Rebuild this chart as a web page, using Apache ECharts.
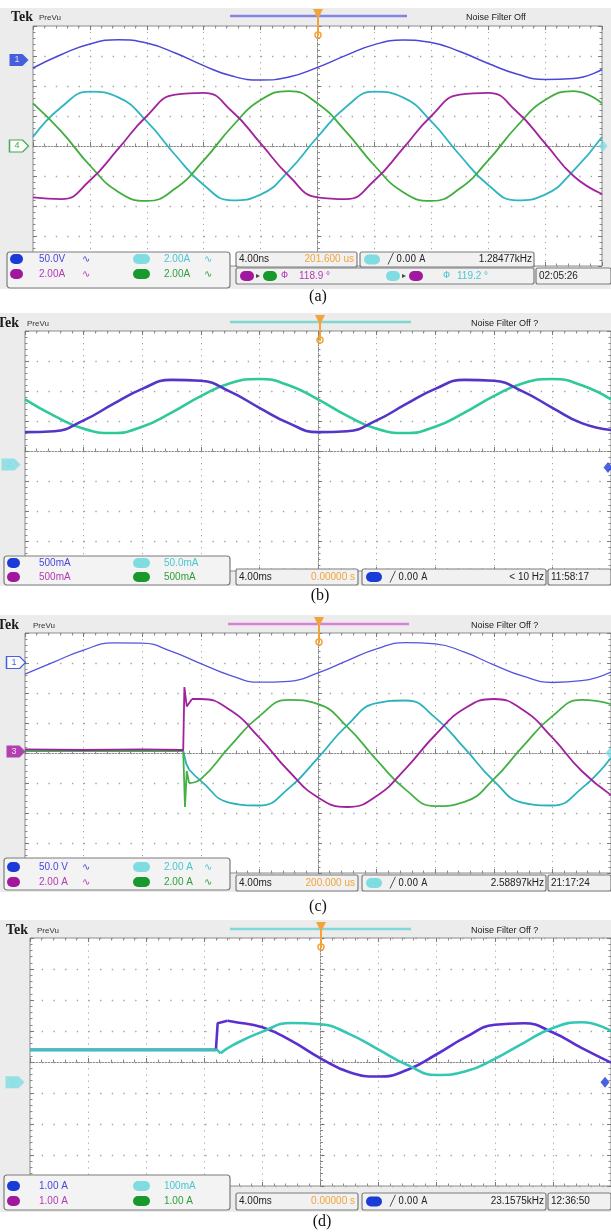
<!DOCTYPE html>
<html>
<head>
<meta charset="utf-8">
<script src="https://cdn.jsdelivr.net/npm/echarts@6/dist/echarts.min.js"></script>
<style>
html, body { margin: 0; padding: 0; background: #fff; }
#main { width: 611px; height: 1232px; }
</style>
</head>
<body>
<div id="main"></div>
<script>
// x in divisions from screen centre, y in divisions from centre line
var T = [-5, -4.5, -4, -3.5, -3, -2.5, -2, -1.5, -1, -0.5, 0, 0.5, 1, 1.5, 2, 2.5, 3, 3.5, 4, 4.5, 5];
var T2 = [-2, -1.5, -1, -0.5, 0, 0.5, 1, 1.5, 2, 2.5, 3, 3.5, 4, 4.5, 5];

// (a) steady state
var aCh1 = [2.6, 3.05, 3.4, 3.54, 3.43, 3.1, 2.68, 2.33, 2.2, 2.3, 2.62, 3.02, 3.38, 3.53, 3.45, 3.15, 2.75, 2.4, 2.22, 2.25, 2.55];
var aCh2 = [0.3, 1.3, 1.81, 1.62, 0.82, -0.3, -1.3, -1.81, -1.62, -0.82, 0.3, 1.3, 1.81, 1.62, 0.82, -0.3, -1.3, -1.81, -1.62, -0.82, 0.3];
var aCh3 = [-1.71, -1.77, -1.15, -0.09, 1.0, 1.71, 1.77, 1.15, 0.09, -1.0, -1.71, -1.77, -1.15, -0.09, 1.0, 1.71, 1.77, 1.15, 0.09, -1.0, -1.6];
var aCh4 = [1.42, 0.48, -0.65, -1.53, -1.83, -1.42, -0.48, 0.65, 1.53, 1.83, 1.42, 0.48, -0.65, -1.53, -1.83, -1.42, -0.48, 0.65, 1.53, 1.83, 1.42];

// (b) two currents
var bCh1 = [0.63, 0.66, 1.02, 1.56, 2.07, 2.37, 2.34, 1.98, 1.44, 0.93, 0.63, 0.66, 1.02, 1.56, 2.07, 2.37, 2.34, 1.98, 1.44, 0.93, 0.7];
var bCh2 = [1.72, 1.17, 0.74, 0.6, 0.81, 1.28, 1.83, 2.26, 2.4, 2.19, 1.72, 1.17, 0.74, 0.6, 0.81, 1.28, 1.83, 2.26, 2.4, 2.19, 1.72];

// (c) start-up of three-phase currents
var cCh1 = [2.63, 3.04, 3.43, 3.67, 3.66, 3.39, 2.98, 2.59, 2.36, 2.39, 2.67, 3.08, 3.47, 3.68, 3.64, 3.36, 2.94, 2.56, 2.35, 2.41, 2.7];
var cCh3X = [-5, -4, -3, -2.3, -2.28, -2.24, -2.15].concat(T2);
var cCh3 = [0.12, 0.1, 0.12, 0.1, 2.2, 1.55, 1.8, 1.8, 1.43, 0.51, -0.6, -1.48, -1.8, -1.43, -0.51, 0.6, 1.48, 1.8, 1.43, 0.51, -0.6, -1.4];
var cCh4X = [-5, -4, -3, -2.3, -2.27, -2.24, -2.2].concat(T2);
var cCh4 = [0.06, 0.06, 0.06, 0.06, -1.8, -0.6, -1.0, -0.87, 0.23, 1.23, 1.77, 1.63, 0.87, -0.23, -1.23, -1.77, -1.63, -0.87, 0.23, 1.23, 1.77, 1.63];
var cCh2X = [-5, -4, -3, -2.3, -2.25, -2.2].concat(T2);
var cCh2 = [0.08, 0.08, 0.08, 0.08, -0.35, -0.55, -0.93, -1.66, -1.75, -1.18, -0.16, 0.93, 1.66, 1.75, 1.18, 0.16, -0.93, -1.66, -1.75, -1.18, -0.16];

// (d) start-up of two currents
var dCh1X = [-5, -3, -1.8, -1.77, -1.6, -1.5, -1, -0.5, 0, 0.5, 1, 1.5, 2, 2.5, 3, 3.5, 4, 4.5, 5];
var dCh1 = [0.39, 0.39, 0.39, 1.25, 1.33, 1.3, 1.12, 0.68, 0.12, -0.33, -0.47, -0.25, 0.25, 0.8, 1.2, 1.25, 0.95, 0.45, -0.02];
var dCh2X = [-5, -3, -1.78, -1.72, -1.5, -1, -0.5, 0, 0.5, 1, 1.5, 2, 2.5, 3, 3.5, 4, 4.5, 5];
var dCh2 = [0.39, 0.39, 0.39, 0.28, 0.55, 0.98, 1.26, 1.22, 0.9, 0.4, -0.1, -0.42, -0.3, 0.1, 0.62, 1.1, 1.28, 1.0];

// channel ground markers: [panel, channel, level, side, filled]
var markers = [
    [0, 1, 2.87, 'left', true], [0, 4, 0, 'left', false], [0, 2, 0, 'right', true],
    [1, 2, -0.45, 'left', true], [1, 1, -0.55, 'right', true],
    [2, 1, 3.02, 'left', false], [2, 3, 0.05, 'left', true], [2, 2, 0, 'right', true],
    [3, 2, -0.65, 'left', true], [3, 1, -0.65, 'right', true]
];

var chBadge = { 1: '#1a3bd8', 2: '#7fdde2', 3: '#a1179e', 4: '#18992c' };
var chText = { 1: '#4848dc', 2: '#49c6cf', 3: '#b43ab4', 4: '#2e9f3a' };

var panels = [
    { left: 33, top: 26, width: 569, height: 240, head: 16, bg: [8, 289], tek: 11, prevu: 39, bar: [230, 407], barColor: '#8585e6',
      trig: 318, noise: 'Noise Filter Off', noiseX: 466, label: '(a)', labelX: 318, labelY: 297, mOff: [-14, -14, 1],
      scales: ['50.0V', '2.00A', '2.00A', '2.00A'], wave: true, leg: [7, 252, 223, 36], rows: [259, 274] },
    { left: 25, top: 331, width: 586, height: 240, head: 322, bg: [313, 586], tek: -3, prevu: 27, bar: [230, 411], barColor: '#80d8d0',
      trig: 320, noise: 'Noise Filter Off ?', noiseX: 471, label: '(b)', labelX: 320, labelY: 596, mOff: [-14, -14, -3],
      scales: ['500mA', '50.0mA', '500mA', '500mA'], wave: false, leg: [4, 556, 226, 29], rows: [563, 577] },
    { left: 25, top: 633, width: 586, height: 240, head: 624, bg: [615, 892], tek: -3, prevu: 33, bar: [228, 409], barColor: '#d880d8',
      trig: 319, noise: 'Noise Filter Off ?', noiseX: 471, label: '(c)', labelX: 318, labelY: 907, mOff: [-9, -9, -1],
      scales: ['50.0 V', '2.00 A', '2.00 A', '2.00 A'], wave: true, leg: [4, 858, 226, 32], rows: [867, 882] },
    { left: 30, top: 938, width: 584, height: 248, head: 929, bg: [920, 1212], tek: 6, prevu: 37, bar: [230, 411], barColor: '#80d8d8',
      trig: 321, noise: 'Noise Filter Off ?', noiseX: 471, label: '(d)', labelX: 322, labelY: 1222, mOff: [-15, -15, -6],
      scales: ['1.00 A', '100mA', '1.00 A', '1.00 A'], wave: false, leg: [4, 1175, 226, 35], rows: [1186, 1201] }
];

// readout boxes under each screen
var readouts = [
    { boxes: [[236, 252, 121, 15], [360, 252, 174, 15], [236, 268, 298, 16], [536, 268, 75, 16]], y: [259.5, 276],
      row1: ['4.00ns', '201.600 us', 2, '1.28477kHz'], clock: '02:05:26', phase: ['118.9 °', '119.2 °'] },
    { boxes: [[236, 569, 122, 16], [362, 569, 184, 16], [548, 569, 63, 16]], y: [577, 577],
      row1: ['4.00ms', '0.00000 s', 1, '< 10 Hz'], clock: '11:58:17' },
    { boxes: [[236, 875, 122, 16], [362, 875, 184, 16], [548, 875, 63, 16]], y: [883, 883],
      row1: ['4.00ms', '200.000 us', 2, '2.58897kHz'], clock: '21:17:24' },
    { boxes: [[236, 1193, 122, 17], [362, 1193, 184, 17], [548, 1193, 63, 17]], y: [1201.5, 1201.5],
      row1: ['4.00ms', '0.00000 s', 1, '23.1575kHz'], clock: '12:36:50' }
];

var FONT = '"Liberation Sans Narrow", "Liberation Sans", sans-serif';

function pts(xs, ys) {
    return xs.map(function (x, i) { return [x, ys[i]]; });
}

// one trace; if cut is given, the part up to the switching instant is drawn straight
function trace(p, xs, ys, color, width, cut) {
    var base = { type: 'line', xAxisIndex: 3 * p, yAxisIndex: 3 * p, showSymbol: false, symbol: 'none',
                 silent: true, z: 3, lineStyle: { color: color, width: width } };
    if (cut == null) {
        return [Object.assign({}, base, { data: pts(xs, ys), smooth: 0.5 })];
    }
    return [
        Object.assign({}, base, { data: pts(xs.slice(0, cut + 1), ys.slice(0, cut + 1)), smooth: false }),
        Object.assign({}, base, { data: pts(xs.slice(cut), ys.slice(cut)), smooth: 0.5 })
    ];
}

var series = [].concat(
    trace(0, T, aCh1, '#4a46d6', 1.5),
    trace(0, T, aCh2, '#2eb5c0', 1.8),
    trace(0, T, aCh4, '#3fae3c', 1.8),
    trace(0, T, aCh3, '#a3239f', 1.8),
    trace(1, T, bCh2, '#2ec99a', 2.6),
    trace(1, T, bCh1, '#5535c8', 2.6),
    trace(2, T, cCh1, '#5454dc', 1.3),
    trace(2, cCh2X, cCh2, '#2ab2bc', 1.8, 5),
    trace(2, cCh4X, cCh4, '#45b045', 1.8, 6),
    trace(2, cCh3X, cCh3, '#a0209e', 1.8, 6),
    trace(3, dCh1X, dCh1, '#5a2fcf', 2.6, 4),
    trace(3, dCh2X, dCh2, '#34c7b3', 2.6, 3)
);

markers.forEach(function (m) {
    var p = panels[m[0]];
    var left = m[3] === 'left';
    var labelColor = m[4] ? (m[1] === 2 ? chBadge[2] : '#fff') : chBadge[m[1]];
    series.push({
        type: 'scatter', xAxisIndex: 3 * m[0], yAxisIndex: 3 * m[0], clip: false, silent: true, z: 4,
        data: [[left ? -5 : 5, m[2]]],
        symbol: left ? 'path://M0,0H13L19,6L13,12H0Z' : 'diamond',
        symbolSize: left ? [19, 12] : [9, 11],
        symbolOffset: [left ? p.mOff[0] : p.mOff[2], 0],
        itemStyle: { color: m[4] ? chBadge[m[1]] : '#fff', borderColor: chBadge[m[1]], borderWidth: m[4] ? 0 : 1.2 },
        label: { show: left, position: 'inside', formatter: String(m[1]), offset: [-2, 0],
                 color: labelColor, fontSize: 9, fontFamily: FONT }
    });
});

var grids = [], xAxes = [], yAxes = [];
panels.forEach(function (p, i) {
    var hd = p.width / 10, vd = p.height / 8;
    var tick = { show: true, inside: true, length: 4, lineStyle: { color: '#7a7a7a' } };
    var minor = { show: true, splitNumber: 5, length: 2.5, lineStyle: { color: '#8a8a8a' } };
    grids.push({ left: p.left, top: p.top, width: p.width, height: p.height, show: true,
                 backgroundColor: '#fff', borderColor: '#8c8c8c', borderWidth: 1 });
    // centre horizontal line + vertical graticule
    xAxes.push({ gridIndex: i, type: 'value', min: -5, max: 5, interval: 1,
        axisLine: { show: true, onZero: true, lineStyle: { color: '#8a8a8a', type: [1.5, 1.5] } },
        axisTick: tick, minorTick: minor, axisLabel: { show: false },
        splitLine: { show: true, lineStyle: { color: '#a4a4a4', type: [1.2, vd / 5 - 1.2] } } });
    xAxes.push({ gridIndex: i, type: 'value', position: 'top', min: -5, max: 5, interval: 1,
        axisLine: { show: false, onZero: false }, axisTick: tick, minorTick: minor,
        axisLabel: { show: false }, splitLine: { show: false } });
    xAxes.push({ gridIndex: i, type: 'value', position: 'bottom', min: -5, max: 5, interval: 1,
        axisLine: { show: false, onZero: false }, axisTick: tick, minorTick: minor,
        axisLabel: { show: false }, splitLine: { show: false } });
    // centre vertical line + horizontal graticule
    yAxes.push({ gridIndex: i, type: 'value', min: -4, max: 4, interval: 1,
        axisLine: { show: true, onZero: true, lineStyle: { color: '#8a8a8a', type: [1.5, 1.5] } },
        axisTick: tick, minorTick: minor, axisLabel: { show: false },
        splitLine: { show: true, lineStyle: { color: '#a4a4a4', width: 1.3, type: [1.4, hd / 5 - 1.4] } } });
    yAxes.push({ gridIndex: i, type: 'value', position: 'left', min: -4, max: 4, interval: 1,
        axisLine: { show: false, onZero: false }, axisTick: tick, minorTick: minor,
        axisLabel: { show: false }, splitLine: { show: false } });
    yAxes.push({ gridIndex: i, type: 'value', position: 'right', min: -4, max: 4, interval: 1,
        axisLine: { show: false, onZero: false }, axisTick: tick, minorTick: minor,
        axisLabel: { show: false }, splitLine: { show: false } });
});

function txt(x, y, s, fill, font, align) {
    return { type: 'text', x: x, y: y, z: 60, silent: true,
        style: { text: s, fill: fill || '#222', font: font || ('10px ' + FONT),
                 align: align || 'left', textAlign: align || 'left',
                 verticalAlign: 'middle', textVerticalAlign: 'middle' } };
}
function box(b, fill, stroke, z, r) {
    return { type: 'rect', z: z || 55, silent: true,
        shape: { x: b[0], y: b[1], width: b[2], height: b[3], r: r == null ? 2 : r },
        style: { fill: fill, stroke: stroke, lineWidth: 1.2 } };
}
function badge(x, y, ch, w) {
    w = w || 15;
    return [
        { type: 'rect', z: 61, silent: true, shape: { x: x, y: y - 5, width: w, height: 10, r: 5 }, style: { fill: chBadge[ch] } },
        txt(x + w / 2, y, String(ch), ch === 2 ? '#dffcff' : '#fff', 'bold 8px ' + FONT, 'center')
    ];
}

var graphics = [];
panels.forEach(function (p, i) {
    var r = readouts[i];
    graphics.push(box([0, p.bg[0], 611, p.bg[1] - p.bg[0]], '#ececec', null, -10, 0));
    graphics.push(txt(p.tek, p.head + 1, 'Tek', '#1c1c1c', 'bold 14px "Liberation Serif", serif'));
    graphics.push(txt(p.prevu, p.head + 2, 'PreVu', '#333', '8px ' + FONT));
    graphics.push({ type: 'line', z: 60, silent: true, shape: { x1: p.bar[0], y1: p.head, x2: p.bar[1], y2: p.head },
                    style: { stroke: p.barColor, lineWidth: 2.5 } });
    graphics.push({ type: 'polygon', z: 62, silent: true,
        shape: { points: [[p.trig - 5, p.head - 7], [p.trig + 5, p.head - 7], [p.trig + 1, p.head + 1], [p.trig + 1, p.head + 5], [p.trig - 1, p.head + 5], [p.trig - 1, p.head + 1]] },
        style: { fill: '#f2a43a' } });
    graphics.push({ type: 'line', z: 62, silent: true, shape: { x1: p.trig, y1: p.head + 4, x2: p.trig, y2: p.top + 10 },
                    style: { stroke: '#f2a43a', lineWidth: 2 } });
    graphics.push({ type: 'circle', z: 62, silent: true, shape: { cx: p.trig, cy: p.top + 9, r: 3 },
                    style: { fill: 'none', stroke: '#f2a43a', lineWidth: 1.5 } });
    graphics.push(txt(p.noiseX, p.head + 2, p.noise, '#222', '9px ' + FONT));
    graphics.push(txt(p.labelX, p.labelY, p.label, '#111', '16px "Liberation Serif", serif', 'center'));

    // channel scale legend
    graphics.push(box(p.leg, '#f3f3f3', '#7c7c7c', 55, 3));
    for (var k = 0; k < 4; k++) {
        var ch = k + 1, col = k % 2, y = p.rows[Math.floor(k / 2)];
        var bx = col === 0 ? p.leg[0] + 3 : 133;
        graphics = graphics.concat(badge(bx, y, ch, col === 0 ? 13 : 17));
        graphics.push(txt(col === 0 ? 39 : 164, y, p.scales[k], chText[ch]));
        if (p.wave) graphics.push(txt(col === 0 ? 82 : 204, y, '\u223F', chText[ch], '10px "DejaVu Sans", sans-serif'));
    }

    // time base / trigger readouts
    r.boxes.forEach(function (b) { graphics.push(box(b, '#f1f1f1', '#7c7c7c', 55, 2)); });
    var y1 = r.y[0];
    graphics.push(txt(239, y1, r.row1[0], '#222'));
    graphics.push(txt(r.boxes[0][0] + r.boxes[0][2] - 3, y1, r.row1[1], '#f2a43a', null, 'right'));
    var tb = r.boxes[1];
    graphics = graphics.concat(badge(tb[0] + 4, y1, r.row1[2], 16));
    graphics.push(txt(tb[0] + 28, y1, '\u2571 0.00 A', '#222', '10px "DejaVu Sans Condensed", ' + FONT));
    graphics.push(txt(tb[0] + tb[2] - 2, y1, r.row1[3], '#222', null, 'right'));
    var cb = r.boxes[r.boxes.length - 1];
    graphics.push(txt(cb[0] + 3, r.y[1], r.clock, '#222'));
    if (r.phase) {
        var y2 = r.y[1];
        graphics = graphics.concat(badge(240, y2, 3, 14));
        graphics.push(txt(256, y2, '\u25B8', '#444', '8px "DejaVu Sans", sans-serif'));
        graphics = graphics.concat(badge(263, y2, 4, 14));
        graphics.push(txt(281, y2, '\u03A6', chText[3], '9px "DejaVu Sans", sans-serif'));
        graphics.push(txt(299, y2, r.phase[0], chText[3]));
        graphics = graphics.concat(badge(386, y2, 2, 14));
        graphics.push(txt(402, y2, '\u25B8', '#444', '8px "DejaVu Sans", sans-serif'));
        graphics = graphics.concat(badge(409, y2, 3, 14));
        graphics.push(txt(443, y2, '\u03A6', chText[2], '9px "DejaVu Sans", sans-serif'));
        graphics.push(txt(457, y2, r.phase[1], chText[2]));
    }
});

var myChart = echarts.init(document.getElementById('main'), null, { renderer: 'canvas' });
myChart.setOption({
    animation: false,
    backgroundColor: '#fff',
    grid: grids,
    xAxis: xAxes,
    yAxis: yAxes,
    series: series,
    graphic: { elements: graphics }
});
</script>
</body>
</html>
